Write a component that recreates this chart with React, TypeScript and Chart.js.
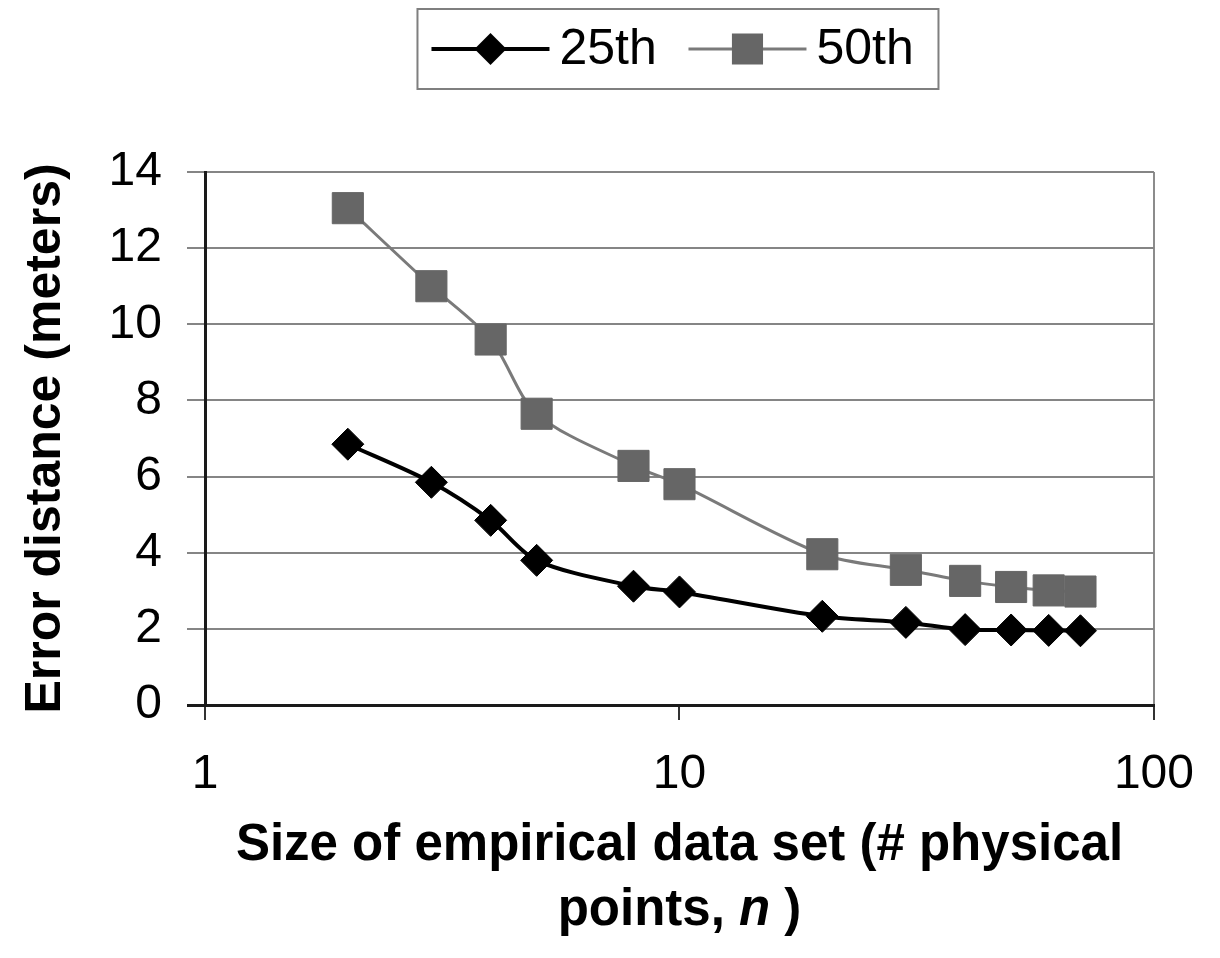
import { useEffect, useRef } from "react";
import { Chart, registerables } from "chart.js";

Chart.register(...registerables);

// ---- data ----
const sampleSizes = [2, 3, 4, 5, 8, 10, 20, 30, 40, 50, 60, 70];
const p25Values = [6.85, 5.85, 4.85, 3.8, 3.12, 2.97, 2.33, 2.17, 1.98, 1.97, 1.96, 1.95];
const p50Values = [13.05, 11.0, 9.6, 7.65, 6.28, 5.8, 3.96, 3.55, 3.26, 3.1, 3.01, 2.98];
const seriesLabels = ["25th", "50th"];
const xTickValues = [1, 10, 100];
const yTickMin = 0;
const yTickMax = 14;
const yTickStep = 2;
// x-axis title: line 1, then line 2 in pieces (the "n" is italic)
const xTitleLine1 = "Size of empirical data set (# physical";
const xTitleLine2 = [
  { text: "points, ", italic: false },
  { text: "n", italic: true },
  { text: " )", italic: false },
];
const yTitle = "Error distance (meters)";

const FAMILY = "'Liberation Sans', Arial, Helvetica, sans-serif";

const boxLegendPlugin = {
  id: "boxLegend",
  afterDraw(chart: any) {
    const { ctx, chartArea } = chart;
    const cx = (chartArea.left + chartArea.right) / 2;
    const boxL = cx - 262;
    const boxT = 9;
    const boxW = 521;
    const boxH = 80;
    const cy = boxT + boxH / 2;
    ctx.save();
    ctx.strokeStyle = "#7f7f7f";
    ctx.lineWidth = 2;
    ctx.strokeRect(boxL, boxT, boxW, boxH);
    chart.data.datasets.forEach((ds: any, i: number) => {
      const lineL = boxL + 14 + i * 257;
      const lineR = lineL + 118;
      const mx = (lineL + lineR) / 2;
      ctx.strokeStyle = ds.borderColor;
      ctx.lineWidth = ds.borderWidth;
      ctx.beginPath();
      ctx.moveTo(lineL, cy);
      ctx.lineTo(lineR, cy);
      ctx.stroke();
      ctx.fillStyle = ds.pointBackgroundColor;
      ctx.beginPath();
      if (ds.pointStyle === "rectRot") {
        const r = ds.pointRadius;
        ctx.moveTo(mx - r, cy);
        ctx.lineTo(mx, cy - r);
        ctx.lineTo(mx + r, cy);
        ctx.lineTo(mx, cy + r);
        ctx.closePath();
      } else {
        const h = Math.SQRT1_2 * ds.pointRadius;
        ctx.rect(mx - h, cy - h, 2 * h, 2 * h);
      }
      ctx.fill();
      ctx.fillStyle = "#000";
      ctx.font = `50px ${FAMILY}`;
      ctx.textAlign = "left";
      ctx.textBaseline = "middle";
      ctx.fillText(ds.label, lineR + 10, cy + 1);
    });
    ctx.restore();
  },
};

const xTitlePlugin = {
  id: "xTitle",
  afterDraw(chart: any) {
    const { ctx, chartArea } = chart;
    const xScale = chart.scales.x;
    const cx = (chartArea.left + chartArea.right) / 2;
    const size = 51;
    const lineH = 65;
    const y2 = xScale.bottom - 15 - lineH / 2;
    const y1 = y2 - lineH;
    ctx.save();
    ctx.fillStyle = "#000";
    ctx.textBaseline = "middle";
    ctx.textAlign = "left";
    ctx.font = `bold ${size}px ${FAMILY}`;
    const w1 = ctx.measureText(xTitleLine1).width;
    ctx.fillText(xTitleLine1, cx - w1 / 2, y1);
    const fontFor = (it: boolean) => `${it ? "italic " : ""}bold ${size}px ${FAMILY}`;
    let total = 0;
    xTitleLine2.forEach((seg) => {
      ctx.font = fontFor(seg.italic);
      total += ctx.measureText(seg.text).width;
    });
    let x = cx - total / 2;
    xTitleLine2.forEach((seg) => {
      ctx.font = fontFor(seg.italic);
      ctx.fillText(seg.text, x, y2);
      x += ctx.measureText(seg.text).width;
    });
    ctx.restore();
  },
};

export default function App() {
  const canvasRef = useRef<HTMLCanvasElement | null>(null);

  useEffect(() => {
    const canvas = canvasRef.current;
    if (!canvas) return;
    const chart = new Chart(canvas, {
      type: "line",
      data: {
        datasets: [
          {
            label: seriesLabels[0],
            data: sampleSizes.map((n, i) => ({ x: n, y: p25Values[i] })),
            borderColor: "#000000",
            borderWidth: 4,
            pointStyle: "rectRot",
            pointRadius: 16,
            pointBackgroundColor: "#000000",
            pointBorderColor: "#000000",
            pointBorderWidth: 1,
            tension: 0.3,
            fill: false,
          },
          {
            label: seriesLabels[1],
            data: sampleSizes.map((n, i) => ({ x: n, y: p50Values[i] })),
            borderColor: "#7a7a7a",
            borderWidth: 3,
            pointStyle: "rect",
            pointRadius: 22,
            pointBackgroundColor: "#666666",
            pointBorderColor: "#666666",
            pointBorderWidth: 1,
            tension: 0.3,
            fill: false,
          },
        ],
      },
      options: {
        responsive: false,
        animation: false,
        layout: { padding: { top: 172, right: 65, bottom: 0, left: 0 } },
        plugins: {
          legend: { display: false },
          tooltip: { enabled: false },
        },
        scales: {
          x: {
            type: "logarithmic",
            min: 1,
            max: 100,
            afterBuildTicks: (s: any) => {
              s.ticks = xTickValues.map((v) => ({ value: v }));
            },
            afterFit: (s: any) => {
              s.height = 253;
            },
            ticks: {
              autoSkip: false,
              maxRotation: 0,
              padding: 26,
              color: "#000",
              font: { family: FAMILY, size: 48 },
              callback: (v: any) => String(v),
            },
            grid: {
              drawOnChartArea: true,
              color: (c: any) => (c.tick && c.tick.value === 100 ? "#8c8c8c" : "rgba(0,0,0,0)"),
              tickColor: "#333",
              lineWidth: 2,
              tickLength: 15,
            },
            border: { color: "#1a1a1a", width: 3 },
            title: { display: false },
          },
          y: {
            type: "linear",
            min: yTickMin,
            max: yTickMax,
            afterFit: (s: any) => {
              s.width = 205;
            },
            ticks: {
              stepSize: yTickStep,
              padding: 25,
              color: "#000",
              font: { family: FAMILY, size: 48 },
            },
            grid: {
              color: (c: any) => (c.tick && c.tick.value === 0 ? "#1a1a1a" : "#858585"),
              lineWidth: (c: any) => (c.tick && c.tick.value === 0 ? 3 : 2),
              tickLength: 18,
            },
            border: { color: "#1a1a1a", width: 3 },
            title: {
              display: true,
              text: yTitle,
              color: "#000",
              font: { family: FAMILY, size: 50, weight: "bold", lineHeight: 1.2 },
              padding: { top: 16, bottom: 0 },
            },
          },
        },
      } as any,
      plugins: [boxLegendPlugin, xTitlePlugin],
    });
    return () => chart.destroy();
  }, []);

  return (
    <div style={{ position: "absolute", left: 0, top: 0, width: 1220, height: 958, background: "#fff" }}>
      <canvas ref={canvasRef} width={1220} height={958} style={{ display: "block" }} />
    </div>
  );
}
